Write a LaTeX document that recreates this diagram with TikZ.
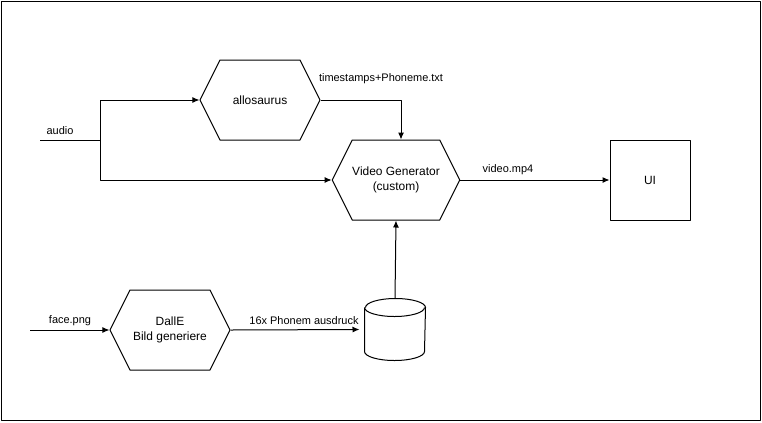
\documentclass[tikz,border=0pt]{standalone}
\usepackage{fontspec}
\setmainfont{Liberation Sans}
\usetikzlibrary{shapes.symbols,arrows.meta}
\tikzset{
  hexbox/.style={draw, signal, signal to=east and west, signal pointer angle=126.87,
    minimum width=120bp, minimum height=80bp, inner sep=0pt, align=center,
    font=\fontsize{12}{15}\selectfont},
  uibox/.style={draw, rectangle, minimum width=80bp, minimum height=80bp,
    font=\fontsize{12}{15}\selectfont},
  dbbox/.style={rectangle, minimum width=60bp, minimum height=61bp, inner sep=0pt},
  lbl/.style={font=\fontsize{11}{13}\selectfont},
}
\begin{document}
\begin{tikzpicture}[x=1bp,y=-1bp,>={Latex[length=7bp,width=6bp]},line join=bevel]
  \pgfsetlinewidth{1bp}
  \useasboundingbox (0,0) rectangle (762,422);
  % Frame
  \draw (1,1) rectangle (760,420);
%%
  % Nodes
  \node[hexbox] (allo) at (260,100) {allosaurus};
  \node[hexbox] (vg) at (396,180) {Video Generator\\(custom)};
  \node[uibox] (ui) at (650,180) {UI};
  \node[hexbox] (dalle) at (170,330) {DallE\\Bild generiere};
  \node[dbbox] (db) at (395,329.5) {};
  % Node: db (cylinder)
  \draw ([yshift=-9bp]db.north west) -- ([yshift=9bp]db.south west)
    arc[start angle=180, end angle=360, x radius=30bp, y radius=9bp]
    -- ([yshift=-9bp]db.north east)
    arc[start angle=0, end angle=180, x radius=30bp, y radius=9bp];
  \draw ([yshift=-9bp]db.north west)
    arc[start angle=180, end angle=360, x radius=30bp, y radius=9bp];
  \coordinate (audioin) at (40,140);
  \coordinate (split) at (100,140);
  \coordinate (facein) at (30,330);
  % Edge: audio -> allosaurus, Video Generator
  \draw (audioin) -- (split);
  \draw [->] (split) |- (allo.west);
  \draw [->] (split) |- (vg.west);
  \node[lbl] (audiolbl) at (60,131) {audio};
  % Edge: allosaurus -> Video Generator
  \draw [->] (allo.east) -| ([xshift=5bp]vg.north);
  \node[lbl] (tslbl) at (381,79) {timestamps+Phoneme.txt};
  % Edge: Video Generator -> UI
  \draw [->] (vg.east) -- (ui.west);
  \node[lbl] (mp4lbl) at (508,170) {video.mp4};
  % Edge: face.png -> DallE
  \draw [->] (facein) -- (dalle.west);
  \node[lbl] (facelbl) at (70,321) {face.png};
  % Edge: DallE -> db
  \draw [->] (dalle.east) -- ([xshift=-5bp]db.west);
  \node[lbl] (phlbl) at (304,321) {16x Phonem ausdruck};
  % Edge: db -> Video Generator
  \draw [->] (db.north) -- (vg.south);
%
\end{tikzpicture}
\end{document}
